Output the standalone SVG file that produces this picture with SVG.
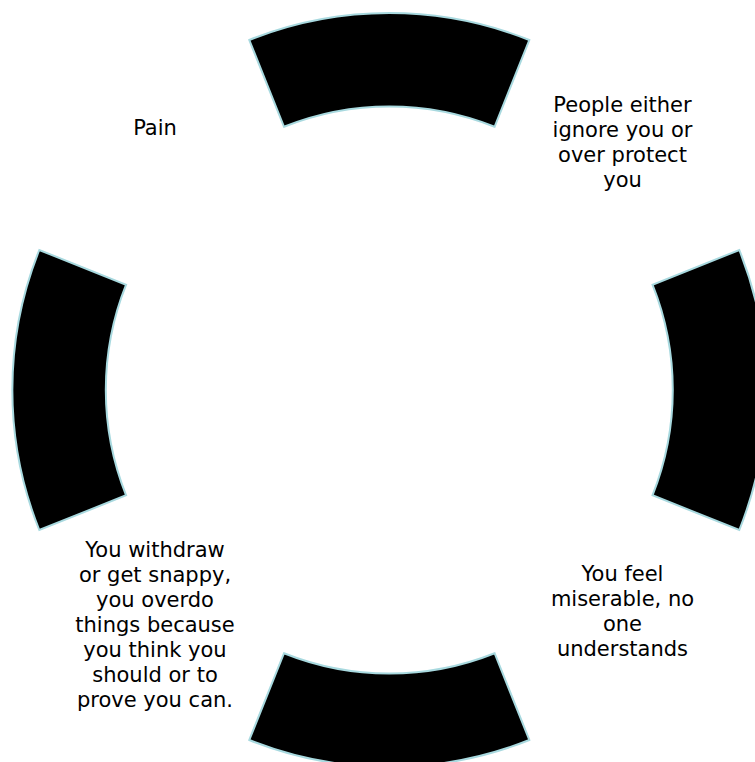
<svg xmlns="http://www.w3.org/2000/svg" width="755" height="762" viewBox="0 0 755 762">
  <style>
    .seg { fill: #000000; stroke: #a8d9df; stroke-width: 2; stroke-linejoin: miter; }
    .lbl { font-family: "DejaVu Sans", Verdana, sans-serif; font-size: 21px; fill: #000000; text-anchor: middle; }
  </style>
  <rect width="755" height="762" fill="#ffffff"/>
  <g id="node-top">
    <path class="seg" d="M249.3,40 A377,377 0 0 1 529.3,40 L494.6,126.8 A283.5,283.5 0 0 0 284,126.8 Z"/>
  </g>
  <g id="node-right">
    <path class="seg" d="M739.3,250 A377,377 0 0 1 739.3,530 L652.5,495.3 A283.5,283.5 0 0 0 652.5,284.7 Z"/>
  </g>
  <g id="node-bottom">
    <path class="seg" d="M529.3,740 A377,377 0 0 1 249.3,740 L284,653.2 A283.5,283.5 0 0 0 494.6,653.2 Z"/>
  </g>
  <g id="node-left">
    <path class="seg" d="M39.3,530 A377,377 0 0 1 39.3,250 L126.1,284.7 A283.5,283.5 0 0 0 126.1,495.3 Z"/>
  </g>
  <g id="connectors"></g>
  <g id="label-pain">
    <text class="lbl" x="155" y="135">Pain</text>
  </g>
  <g id="label-people">
    <text class="lbl" x="622.5" y="111.7">People either</text>
    <text class="lbl" x="622.5" y="136.7">ignore you or</text>
    <text class="lbl" x="622.5" y="161.7">over protect</text>
    <text class="lbl" x="622.5" y="186.7">you</text>
  </g>
  <g id="label-miserable">
    <text class="lbl" x="622.5" y="580.7">You feel</text>
    <text class="lbl" x="622.5" y="605.7">miserable, no</text>
    <text class="lbl" x="622.5" y="630.7">one</text>
    <text class="lbl" x="622.5" y="655.7">understands</text>
  </g>
  <g id="label-withdraw">
    <text class="lbl" x="155" y="556.7">You withdraw</text>
    <text class="lbl" x="155" y="581.7">or get snappy,</text>
    <text class="lbl" x="155" y="606.7">you overdo</text>
    <text class="lbl" x="155" y="631.7">things because</text>
    <text class="lbl" x="155" y="656.7">you think you</text>
    <text class="lbl" x="155" y="681.7">should or to</text>
    <text class="lbl" x="155" y="706.7">prove you can.</text>
  </g>
</svg>
